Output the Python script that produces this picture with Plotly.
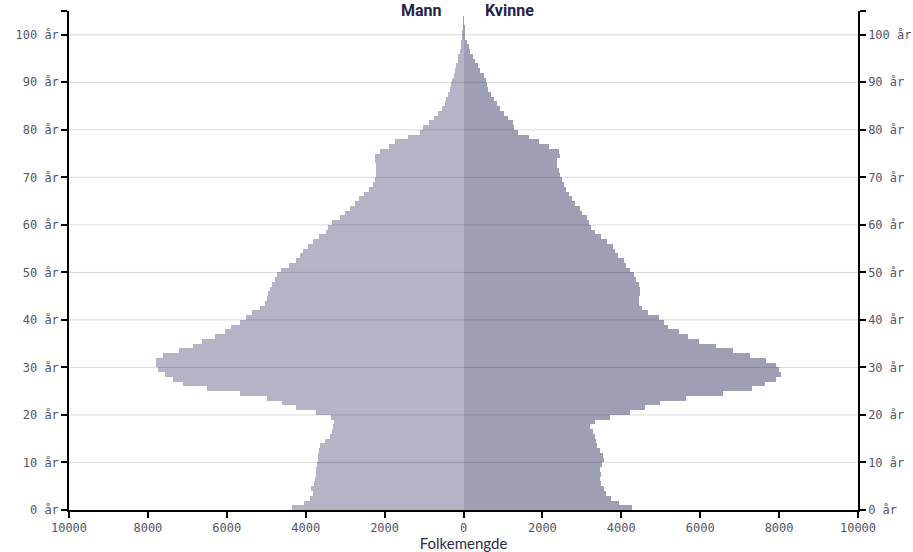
import plotly.graph_objects as go

ages = list(range(0, 104))
male = [4347, 4051, 3882, 3815, 3857, 3798, 3773, 3747, 3730, 3714,
        3689, 3680, 3663, 3646, 3502, 3376, 3325, 3308, 3292, 3350,
        3730, 4254, 4591, 4980, 5672, 6490, 7123, 7360, 7562, 7756,
        7807, 7807, 7613, 7216, 6853, 6617, 6305, 6051, 5882, 5672,
        5520, 5360, 5165, 5039, 4980, 4955, 4912, 4853, 4786, 4727,
        4616, 4420, 4237, 4152, 4068, 3941, 3815, 3663, 3477, 3435,
        3325, 3140, 3013, 2886, 2760, 2650, 2532, 2397, 2296, 2253,
        2211, 2228, 2228, 2245, 2253, 2110, 1891, 1747, 1410, 1114,
        1030, 878, 760, 650, 540, 481, 439, 397, 354, 312,
        287, 253, 219, 186, 152, 127, 101, 76, 51, 34,
        17, 10, 6, 3]
female = [4271, 3933, 3739, 3612, 3553, 3486, 3469, 3486, 3469, 3503,
          3553, 3537, 3461, 3376, 3360, 3334, 3275, 3216, 3334, 3722,
          4220, 4609, 4989, 5638, 6566, 7309, 7638, 7916, 8043, 8001,
          7916, 7680, 7259, 6819, 6398, 5975, 5697, 5452, 5174, 5072,
          4946, 4684, 4525, 4456, 4440, 4482, 4482, 4440, 4372, 4330,
          4228, 4119, 4077, 3925, 3841, 3782, 3638, 3486, 3334, 3233,
          3190, 3132, 2996, 2962, 2827, 2743, 2684, 2600, 2541, 2490,
          2456, 2414, 2372, 2372, 2439, 2430, 2160, 1924, 1671, 1393,
          1291, 1249, 1122, 1021, 937, 853, 768, 701, 633, 599,
          574, 532, 430, 363, 295, 236, 177, 127, 84, 50,
          30, 15, 8, 4]

x_ticks = [-10000, -8000, -6000, -4000, -2000, 0, 2000, 4000, 6000, 8000, 10000]
x_ticktext = [str(abs(v)) for v in x_ticks]
y_ticks = [0, 10, 20, 30, 40, 50, 60, 70, 80, 90, 100]
y_ticktext = [f"{v} år" for v in y_ticks]

MALE_COLOR = "#b5b4c6"
FEMALE_COLOR = "#9e9eb4"
TICK_FONT = dict(family="DejaVu Sans Mono", size=12, color="#555566")

y_mid = [a + 0.5 for a in ages]

fig = go.Figure()
fig.add_trace(go.Bar(
    y=y_mid, x=[-v for v in male], orientation="h", width=1,
    marker=dict(color=MALE_COLOR, line=dict(width=0)), name="Mann",
    customdata=male, hovertemplate="Mann %{y:.0f} år: %{customdata}<extra></extra>"))
fig.add_trace(go.Bar(
    y=y_mid, x=female, orientation="h", width=1,
    marker=dict(color=FEMALE_COLOR, line=dict(width=0)), name="Kvinne",
    hovertemplate="Kvinne %{y:.0f} år: %{x}<extra></extra>"))
# dummy trace so the right axis is drawn
fig.add_trace(go.Scatter(x=[None], y=[None], yaxis="y2", showlegend=False, hoverinfo="skip"))

yaxis_common = dict(
    range=[0, 105], tickvals=y_ticks + [105], ticktext=y_ticktext + [""],
    showgrid=False, zeroline=False, showline=True, linecolor="black", linewidth=1.5,
    ticks="outside", ticklen=6, tickcolor="black", tickwidth=1.5, tickfont=TICK_FONT,
    fixedrange=True, automargin=False)

fig.update_layout(
    width=913, height=552, autosize=False,
    margin=dict(l=69, r=55, t=11, b=42, autoexpand=False),
    paper_bgcolor="white", plot_bgcolor="white",
    barmode="overlay", bargap=0, showlegend=False,
    xaxis=dict(range=[-10000, 10000], tickvals=x_ticks, ticktext=x_ticktext,
               showgrid=False, zeroline=False, showline=True, linecolor="black", linewidth=1.5,
               ticks="outside", ticklen=6, tickcolor="black", tickwidth=1.5,
               tickfont=TICK_FONT, fixedrange=True, automargin=False,
               title=dict(text="Folkemengde", standoff=0,
                          font=dict(family="Lato", size=15, color="#2b2a4c"))),
    yaxis=dict(side="left", **yaxis_common),
    yaxis2=dict(side="right", overlaying="y", anchor="x", **yaxis_common),
)

# grid lines drawn above the bars
for v in y_ticks[1:]:
    fig.add_shape(type="line", xref="paper", x0=0, x1=1, yref="y", y0=v, y1=v,
                  line=dict(color="rgba(0,0,0,0.15)", width=1), layer="above")

fig.add_annotation(x=-500, y=105, xref="x", yref="y", yanchor="middle", xanchor="right",
                   yshift=1, text="<b>Mann</b>", showarrow=False,
                   font=dict(family="Roboto", size=16, color="#25234d"))
fig.add_annotation(x=500, y=105, xref="x", yref="y", yanchor="middle", xanchor="left",
                   yshift=1, text="<b>Kvinne</b>", showarrow=False,
                   font=dict(family="Roboto", size=16, color="#25234d"))

fig.write_html("out.html",
               config={"displayModeBar": False, "responsive": False},
               post_script="document.body.style.margin='0';document.body.style.overflow='hidden';")
